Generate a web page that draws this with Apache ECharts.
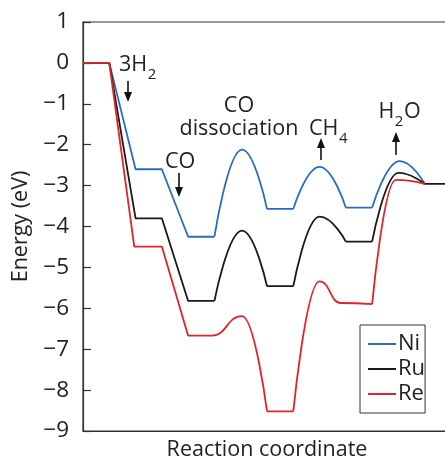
<!DOCTYPE html>
<html><head><meta charset="utf-8">
<script src="https://cdn.jsdelivr.net/npm/echarts@6/dist/echarts.min.js"></script>
<style>html,body{margin:0;padding:0;background:#fff}#c{width:445px;height:458px}</style>
</head><body><div id="c"></div>
<script>
// ---- data (reaction coordinate step, energy in eV) ----
const seriesNames = ['Ni', 'Ru', 'Re'];
const niPath = [[0,0],[1,0],[2,-2.6],[3,-2.6],[4,-4.25],[5,-4.25],[6.05,-2.12],[7,-3.57],[8,-3.57],[9,-2.54],[10,-3.54],[11,-3.54],[12.05,-2.4],[13,-2.96]];
const ruPath = [[0,0],[1,0],[2,-3.8],[3,-3.8],[4,-5.82],[5,-5.82],[6.05,-4.1],[7,-5.46],[8,-5.46],[9,-3.76],[10,-4.37],[11,-4.37],[12,-2.69],[13,-2.96],[14,-2.96]];
const rePath = [[0,0],[1,0],[1.95,-4.49],[3,-4.49],[4,-6.67],[4.9,-6.67],[6.05,-6.19],[7,-8.52],[8,-8.52],[9,-5.34],[9.8,-5.87],[11,-5.9],[11.9,-2.86],[13,-2.96]];
// index ranges drawn as curved (transition-state) sections
const niHumps = [[5,7],[8,10],[11,13]];
const ruHumps = [[5,7],[8,10],[11,13]];
const reHumps = [[4,7],[8,11],[11,13]];
const yTicks = [1,0,-1,-2,-3,-4,-5,-6,-7,-8,-9];

const colors = {Ni:'#2b6cbf', Ru:'#1a1a1a', Re:'#e3222b'};
const FONT = '"Open Sans", "DejaVu Sans", sans-serif';

function covered(k, humps){ return humps.some(h => k >= h[0] && k+1 <= h[1]); }
function linearData(path, humps){
  const out = []; let last = -1;
  for (let k = 0; k < path.length-1; k++){
    if (covered(k, humps)) {
      if (out.length && out[out.length-1][1] !== '-') out.push([path[k][0], '-']);
      last = -1; continue;
    }
    if (last !== k) out.push(path[k]);
    out.push(path[k+1]); last = k+1;
  }
  return out;
}
function curveData(path, humps){
  const out = [];
  humps.forEach(h => {
    for (let k = h[0]; k <= h[1]; k++) out.push(path[k]);
    out.push([path[h[1]][0] + 0.01, '-']);
  });
  return out;
}
const paths = {Ni:[niPath, niHumps], Ru:[ruPath, ruHumps], Re:[rePath, reHumps]};
const series = [];
seriesNames.forEach(n => {
  const [p, h] = paths[n];
  const common = {name:n, type:'line', symbol:'none', connectNulls:false,
    lineStyle:{color:colors[n], width:1.8}, itemStyle:{color:colors[n]}, emphasis:{disabled:true}, animation:false};
  series.push(Object.assign({}, common, {data: linearData(p, h)}));
  series.push(Object.assign({}, common, {data: curveData(p, h), smooth:0.5, smoothMonotone:'x'}));
});

const mctx = document.createElement('canvas').getContext('2d');
function tw(text, size){ mctx.font = size + 'px ' + FONT; return mctx.measureText(text).width; }
function txt(text, x, y, size){
  return {type:'text', style:{text, x, y, font: size + 'px ' + FONT, fill:'#222', align:'left', verticalAlign:'middle'}};
}
// chemical label: parts alternate normal / subscript
function chem(parts, x, y){
  const out = []; let cx = x;
  parts.forEach((t, i) => {
    const sub = i % 2 === 1;
    const size = sub ? 15 : 21.5;
    out.push(txt(t, cx + (sub ? 0.5 : 0), sub ? y + 10 : y, size));
    cx += tw(t, size) + (sub ? 1 : 0);
  });
  return out;
}
function arrow(x, y0, tip){
  const d = tip > y0 ? 1 : -1;
  return [
    {type:'line', shape:{x1:x, y1:y0, x2:x, y2:tip - d*6}, style:{stroke:'#111', lineWidth:1.6}},
    {type:'polygon', shape:{points:[[x-4, tip - d*10],[x+4, tip - d*10],[x, tip]]}, style:{fill:'#111'}}
  ];
}
const graphics = [].concat(
  chem(['3H', '2'], 119, 64.5), arrow(128, 81, 102),
  [txt('CO', 165, 161.5, 21.5)], arrow(179, 173, 197),
  [{type:'text', style:{text:'CO', x:239, y:105.5, font:'21.5px ' + FONT, fill:'#222', align:'center', verticalAlign:'middle'}},
   txt('dissociation', 179.5, 128.5, 21.5)],
  chem(['CH', '4'], 309, 129), arrow(321, 160, 138),
  chem(['H', '2', 'O'], 378.5, 112), arrow(396, 155, 132)
);

const chart = echarts.init(document.getElementById('c'), null, {renderer:'canvas'});
chart.setOption({
  animation:false,
  backgroundColor:'#fff',
  grid:{left:83, right:-6, top:22, bottom:27, show:true, borderColor:'#333', borderWidth:1.2,
    backgroundColor:'transparent', containLabel:false, outerBoundsMode:'none'},
  xAxis:{type:'value', min:0, max:14, name:'Reaction coordinate', nameLocation:'middle', nameGap:8,
    nameTextStyle:{fontFamily:FONT, fontSize:21.5, color:'#222'},
    axisLine:{show:true, onZero:false, lineStyle:{color:'#333', width:1.2}}, axisTick:{show:false}, axisLabel:{show:false}, splitLine:{show:false}},
  yAxis:{type:'value', min:yTicks[yTicks.length-1], max:yTicks[0], interval:1, name:'Energy (eV)', nameLocation:'middle', nameGap:50,
    nameTextStyle:{fontFamily:FONT, fontSize:21.5, color:'#222'},
    axisLine:{show:true, onZero:false, lineStyle:{color:'#333', width:1.2}},
    axisTick:{show:true, inside:true, length:8, lineStyle:{color:'#333', width:1.2}},
    axisLabel:{fontFamily:FONT, fontSize:22.5, color:'#222', margin:14, formatter:v => v < 0 ? '\u2212' + Math.abs(v) : String(v)},
    splitLine:{show:false}},
  legend:{data:seriesNames, orient:'vertical', left:360, top:325, padding:[8,0,8,8], itemGap:3, itemWidth:28, itemHeight:2,
    icon:'rect', borderColor:'#333', borderWidth:1, backgroundColor:'#fff',
    textStyle:{fontFamily:FONT, fontSize:22, color:'#222', padding:[0,0,0,-3]}},
  series,
  graphic: graphics
});
</script></body></html>
